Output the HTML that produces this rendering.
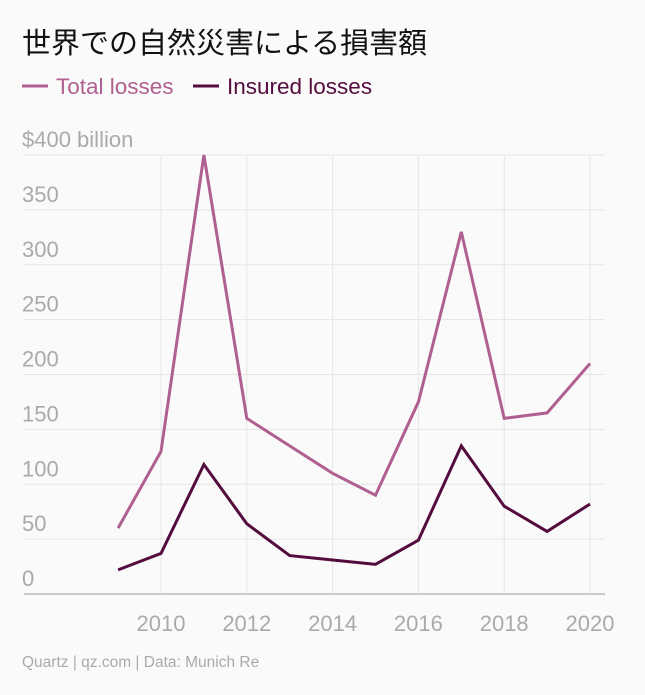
<!DOCTYPE html>
<html><head><meta charset="utf-8"><style>
body{margin:0;background:#fafafa;}
svg{display:block;font-family:"Liberation Sans","Noto Sans CJK JP",sans-serif;}
</style></head><body>
<svg width="645" height="695" viewBox="0 0 645 695">
<rect width="645" height="695" fill="#fafafa"/>
<text x="22" y="53" font-size="29" fill="#111">世界での自然災害による損害額</text>
<g>
<line x1="22" y1="86" x2="48" y2="86" stroke="#b06090" stroke-width="3"/>
<text x="56" y="94" font-size="22.5" fill="#b06090">Total losses</text>
<line x1="193" y1="86" x2="219" y2="86" stroke="#540c3e" stroke-width="3"/>
<text x="227" y="94" font-size="22.5" fill="#540c3e">Insured losses</text>
</g>
<g id="grid"></g>
<g id="marks"></g>
<text x="22" y="667" font-size="15.5" fill="#aaa">Quartz | qz.com | Data: Munich Re</text>
</svg>
<script>
const years=[2009,2010,2011,2012,2013,2014,2015,2016,2017,2018,2019,2020];
const totalLosses=[60,130,400,160,135,110,90,175,330,160,165,210];
const insuredLosses=[22,37,118,64,35,31,27,49,135,80,57,82];
const yTicks=[0,50,100,150,200,250,300,350,400];
const yTickLabels=["0","50","100","150","200","250","300","350","$400 billion"];
const xTicks=[2010,2012,2014,2016,2018,2020];
const NS="http://www.w3.org/2000/svg";
const x=v=>161+(v-2010)*42.9;
const y=v=>594-v*(439/400);
const grid=document.getElementById('grid'),marks=document.getElementById('marks');
function mk(tag,attrs,parent){const e=document.createElementNS(NS,tag);for(const k in attrs)e.setAttribute(k,attrs[k]);parent.appendChild(e);return e;}
yTicks.forEach((t,i)=>{
  const l=mk('line',{x1:24,x2:605,y1:y(t),y2:y(t),stroke:t===0?'#999':'#e6e6e6','stroke-width':1},grid);
  
  
  const tx=mk('text',{x:22,y:y(t)-8,'font-size':22,fill:'#aaa'},grid);
  tx.textContent=yTickLabels[i];
  
  
});
xTicks.forEach(t=>{
  const l=mk('line',{x1:x(t),x2:x(t),y1:y(400),y2:y(0),stroke:'#e6e6e6','stroke-width':1},grid);
  
  
  const tx=mk('text',{x:x(t),y:631,'font-size':22,fill:'#aaa','text-anchor':'middle'},grid);
  tx.textContent=t;
  
  
});
function line(vals,color,name){
  const p=mk('polyline',{points:vals.map((v,i)=>x(years[i])+','+y(v)).join(' '),fill:'none',stroke:color,'stroke-width':3,'stroke-linejoin':'miter'},marks);
  
  
}
line(totalLosses,'#b06090','total-losses-line');
line(insuredLosses,'#540c3e','insured-losses-line');
</script>
</body></html>
